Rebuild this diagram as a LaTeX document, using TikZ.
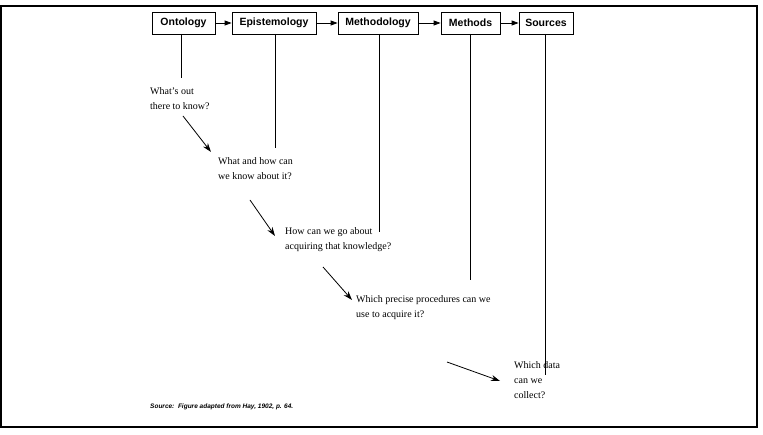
\documentclass[tikz,border=0pt]{standalone}
\usepackage{fontspec}
\setmainfont{Liberation Serif}
\setsansfont{Liberation Sans}
\usetikzlibrary{arrows.meta}
\begin{document}
\begin{tikzpicture}[x=1pt,y=-1pt,
  box/.style={draw,line width=0.8pt,font=\sffamily\bfseries\fontsize{10.5}{12}\selectfont,minimum height=22pt,inner xsep=3pt},
  link/.style={line width=0.8pt,-{Triangle[length=7pt,width=5pt]}},
  stem/.style={line width=0.6pt},
  q/.style={font=\fontsize{10}{15}\selectfont,align=left,anchor=north west,inner sep=0pt},
  flow/.style={line width=0.8pt,-{Stealth[length=9pt,width=6pt]}}]
\useasboundingbox (0,0) rectangle (763,435);
\draw[line width=1.2pt] (1,6) rectangle (757,427);
\node[box,minimum width=63pt] (on) at (183.5,23) {Ontology};
\node[box,minimum width=84pt] (ep) at (274,23) {Epistemology};
\node[box,minimum width=80pt] (me) at (378,23) {Methodology};
\node[box,minimum width=59pt] (mt) at (470.5,23) {Methods};
\node[box,minimum width=54pt] (so) at (546,23) {Sources};
\draw[link] (on) -- (ep);
\draw[link] (ep) -- (me);
\draw[link] (me) -- (mt);
\draw[link] (mt) -- (so);
\coordinate (e1) at (181,78);
\coordinate (e2) at (275,148);
\coordinate (e3) at (379,232);
\coordinate (e4) at (470,280);
\coordinate (e5) at (545,375);
\draw[stem] (181,34) -- (e1);
\draw[stem] (275,34) -- (e2);
\draw[stem] (379,34) -- (e3);
\draw[stem] (470,34) -- (e4);
\draw[stem] (545,34) -- (e5);
\node[q] (t1) at (150,87) {What's out\\there to know?};
\node[q] (t2) at (218,157) {What and how can\\we know about it?};
\node[q] (t3) at (285,227) {How can we go about\\acquiring that knowledge?};
\node[q] (t4) at (356,295) {Which precise procedures can we\\use to acquire it?};
\node[q] (t5) at (514,361) {Which data\\can we\\collect?};
\coordinate (a1) at (183,116); \coordinate (b1) at (211,152);
\coordinate (a2) at (250,200); \coordinate (b2) at (275,236);
\coordinate (a3) at (323,267); \coordinate (b3) at (352,300);
\coordinate (a4) at (447,362); \coordinate (b4) at (500,381);
\draw[flow] (a1) -- (b1);
\draw[flow] (a2) -- (b2);
\draw[flow] (a3) -- (b3);
\draw[flow] (a4) -- (b4);
\node[anchor=west,inner sep=0pt,font=\sffamily\bfseries\itshape\fontsize{6.5}{8}\selectfont] (src) at (150,407) {Source:\ \ Figure adapted from Hay, 1902, p. 64.};
\end{tikzpicture}
\end{document}
